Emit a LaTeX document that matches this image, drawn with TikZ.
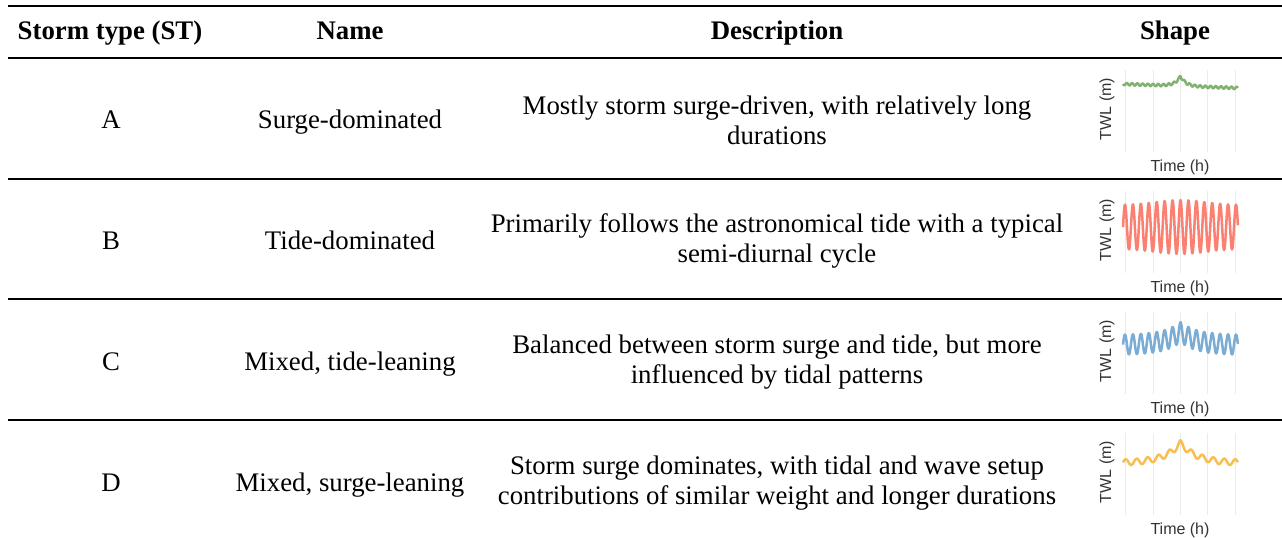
\documentclass[tikz,border=0pt]{standalone}
\usepackage{fontspec}
\setmainfont{Liberation Serif}
\newfontfamily\plotfont{Liberation Sans}
\definecolor{surgeA}{RGB}{130,178,112}
\definecolor{tideB}{RGB}{250,128,114}
\definecolor{mixC}{RGB}{122,172,212}
\definecolor{mixD}{RGB}{250,190,80}
\newcommand{\tabfont}{\fontsize{13.4}{15}\selectfont}
\tikzstyle{head}=[font=\tabfont\bfseries, inner sep=0pt, text height=9.5pt, text depth=3pt]
\tikzstyle{cell}=[font=\tabfont, align=center, inner sep=0pt]
\tikzstyle{single}=[cell, text height=9.5pt, text depth=3pt]
\tikzstyle{rule}=[draw, line width=1pt]
\tikzstyle{grid line}=[draw=black!8, line width=0.4pt]
\tikzstyle{axis label}=[font=\plotfont\fontsize{8}{9}\selectfont, text=black!80, inner sep=0pt]
\tikzstyle{curve}=[line width=1.25pt, line join=round]

\begin{document}
\begin{tikzpicture}[x=0.5pt,y=-0.5pt]

            \useasboundingbox (0,0) rectangle (1282,537);

            % rules
            \path[rule] (8,6) -- (1282,6);
            \path[rule] (8,58) -- (1282,58);
            \path[rule] (8,179) -- (1282,179);
            \path[rule] (8,299) -- (1282,299);
            \path[rule] (8,420) -- (1282,420);

            % header
            \node[head] (hST) at (110,33) {Storm type (ST)};
            \node[head] (hName) at (350,33) {Name};
            \node[head] (hDesc) at (777,33) {Description};
            \node[head] (hShape) at (1175,33) {Shape};

            % rows
            \node[single] (stA) at (111,122) {A};
            \node[single] (nameA) at (350,122) {Surge-dominated};
            \node[cell] (descA) at (777,120) {Mostly storm surge-driven, with relatively long\\durations};

            \node[single] (stB) at (111,243) {B};
            \node[single] (nameB) at (350,243) {Tide-dominated};
            \node[cell] (descB) at (777,241) {Primarily follows the astronomical tide with a typical\\semi-diurnal cycle};

            \node[single] (stC) at (111,364) {C};
            \node[single] (nameC) at (350,364) {Mixed, tide-leaning};
            \node[cell] (descC) at (777,362) {Balanced between storm surge and tide, but more\\influenced by tidal patterns};

            \node[single] (stD) at (111,485) {D};
            \node[single] (nameD) at (350,485) {Mixed, surge-leaning};
            \node[cell] (descD) at (777,483) {Storm surge dominates, with tidal and wave setup\\contributions of similar weight and longer durations};

            % small plots
            \foreach \r/\c in {A/119,B/240,C/361,D/482} {
                \foreach \gx in {1125,1153,1180,1207,1235}
                    \path[grid line] (\gx,\c-49) -- (\gx,\c+33);
                \node[axis label, rotate=90] (twl\r) at (1107,\c-10) {TWL (m)};
                \node[axis label] (time\r) at (1180,\c+48) {Time (h)};
            }

            \draw[curve, surgeA] plot[domain=0:1, samples=300]
                ({1123+115*\x}, {119-35+4*\x-10*exp(-22*abs(\x-0.5))+1.2*sin(7920*\x)});
            \draw[curve, tideB] plot[domain=0:1, samples=300]
                ({1123+115*\x}, {240-13-(22+5*exp(-((\x-0.5)/0.3)^2))*sin(5220*\x)});
            \draw[curve, mixC] plot[domain=0:1, samples=300]
                ({1123+115*\x}, {361-16-10*sin(5220*\x)-13*exp(-7*abs(\x-0.5))});
            \draw[curve, mixD] plot[domain=0:1, samples=300]
                ({1123+115*\x}, {482-19-3*sin(3780*\x)-20*exp(-7*abs(\x-0.5))});

        \end{tikzpicture}
\end{document}
